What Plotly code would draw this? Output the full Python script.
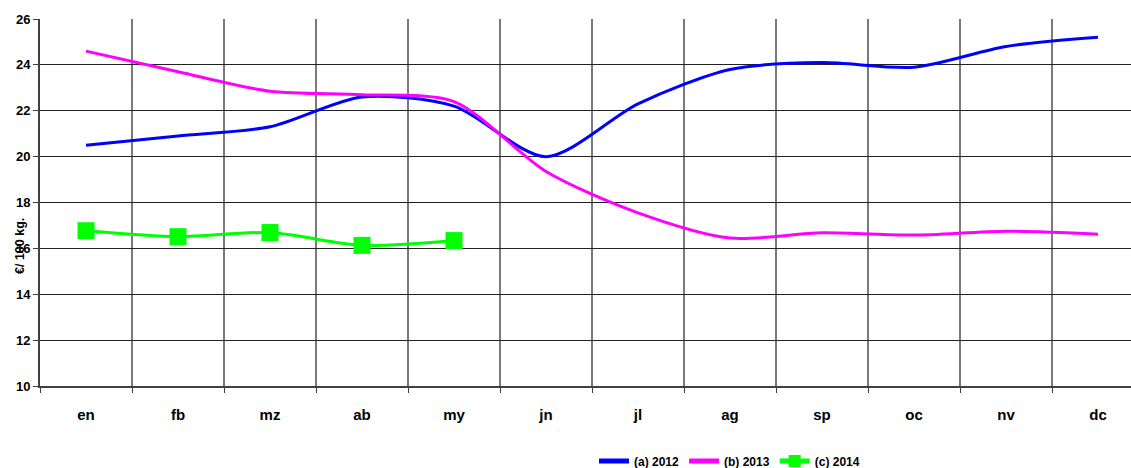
import plotly.graph_objects as go

months = ["en", "fb", "mz", "ab", "my", "jn", "jl", "ag", "sp", "oc", "nv", "dc"]
y2012 = [20.5, 20.9, 21.3, 22.6, 22.2, 20.0, 22.3, 23.8, 24.1, 23.9, 24.8, 25.2]
y2013 = [24.6, 23.7, 22.85, 22.7, 22.4, 19.35, 17.55, 16.45, 16.68, 16.58, 16.75, 16.62]
y2014 = [16.77, 16.51, 16.69, 16.13, 16.34]
y_ticks = [10, 12, 14, 16, 18, 20, 22, 24, 26]

FONT = "Liberation Sans, Arial, sans-serif"

fig = go.Figure()
fig.add_trace(go.Scatter(x=months, y=y2012, name="(a) 2012", mode="lines",
                         line=dict(color="#0000FF", width=3, shape="spline", smoothing=0.8)))
fig.add_trace(go.Scatter(x=months, y=y2013, name="(b) 2013", mode="lines",
                         line=dict(color="#FF00FF", width=3, shape="spline", smoothing=0.8)))
fig.add_trace(go.Scatter(x=months[:len(y2014)], y=y2014, name="(c) 2014", mode="lines+markers",
                         line=dict(color="#00FF00", width=3, shape="spline", smoothing=0.8),
                         marker=dict(symbol="square", size=17, color="#00FF00")))

W, H = 1131, 468
ml, mt, mb = 40, 19, 82
plot_w = W - ml
plot_h = H - mt - mb
fig.update_layout(
    width=W, height=H,
    margin=dict(l=ml, r=0, t=mt, b=mb, autoexpand=False),
    paper_bgcolor="white", plot_bgcolor="white",
    font=dict(family=FONT, color="black"),
    showlegend=True,
    legend=dict(orientation="h", x=0.632, xanchor="center",
                y=(386 - 461) / plot_h, yanchor="middle",
                font=dict(size=12, family=FONT, weight="bold"),
                itemwidth=30, tracegroupgap=0, itemsizing="constant",
                bgcolor="rgba(0,0,0,0)"),
    xaxis=dict(type="category", categoryorder="array", categoryarray=months,
               range=[-0.5, 11.5 - 13 / 92], automargin=False,
               tickson="boundaries", ticks="outside", ticklen=5, tickcolor="#404040",
               showgrid=True, gridcolor="#7a7a7a", gridwidth=1.5,
               showline=True, linecolor="#404040", linewidth=2,
               tickfont=dict(size=15, family=FONT, weight="bold"),
               ticklabelstandoff=14, zeroline=False, fixedrange=True),
    yaxis=dict(range=[10, 26], tickvals=y_ticks, ticks="outside", ticklen=5, tickcolor="#404040",
               automargin=False,
               showgrid=True, gridcolor="#222222", gridwidth=1,
               showline=True, linecolor="#404040", linewidth=2, mirror=False,
               tickfont=dict(size=13, family=FONT, weight="bold"),
               zeroline=False, fixedrange=True),
)
fig.add_annotation(text="€/ 100 kg.", textangle=-90, xref="paper", yref="paper",
                   x=(20 - ml) / plot_w, y=(386 - 246) / plot_h, showarrow=False,
                   xanchor="center", yanchor="middle",
                   font=dict(size=12.5, family=FONT, weight="bold"))
fig.write_html("out.html", config={"displayModeBar": False},
               post_script="document.body.style.margin='0';document.body.style.overflow='hidden';")
